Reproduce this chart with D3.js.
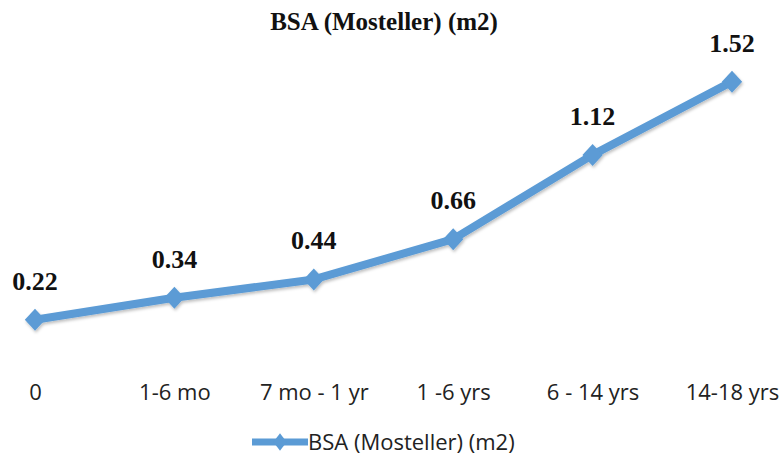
<!DOCTYPE html>
<meta charset="utf-8">
<style>
body { margin: 0; background: #fff; }
.title { font-family: "Liberation Serif", "Times New Roman", serif; font-weight: bold; font-size: 25px; fill: #111; }
.val { font-family: "Liberation Serif", "Times New Roman", serif; font-weight: bold; font-size: 26px; fill: #111; }
.cat, .legend { font-family: "Open Sans", "Liberation Sans", sans-serif; font-size: 22px; fill: #222; }
</style>
<svg width="782" height="460"></svg>
<script src="https://d3js.org/d3.v7.min.js"></script>
<script>

var categories = ["0", "1-6 mo", "7 mo - 1 yr", "1 -6 yrs", "6 - 14 yrs", "14-18 yrs"];
var values = [0.22, 0.34, 0.44, 0.66, 1.12, 1.52];
var seriesName = "BSA (Mosteller) (m2)";

var svg = d3.select("svg");
var color = "#5b9bd5";

var x = d3.scalePoint().domain(categories).range([35, 732]);
var y = d3.scaleLinear().domain([0, 1.6]).range([360, 67]);

var data = categories.map(function(c, i) { return {cat: c, v: values[i]}; });

svg.append("text")
  .attr("class", "title")
  .attr("x", 384)
  .attr("y", 30)
  .attr("text-anchor", "middle")
  .text(seriesName);

var defs = svg.append("defs");
var f = defs.append("filter").attr("id", "sh").attr("x", "-20%").attr("y", "-20%").attr("width", "140%").attr("height", "140%");
f.append("feDropShadow").attr("dx", 1).attr("dy", 2).attr("stdDeviation", 1.5).attr("flood-color", "#000").attr("flood-opacity", 0.25);

var line = d3.line()
  .x(function(d) { return x(d.cat); })
  .y(function(d) { return y(d.v); });

var g = svg.append("g").attr("filter", "url(#sh)");

g.append("path")
  .datum(data)
  .attr("fill", "none")
  .attr("stroke", color)
  .attr("stroke-width", 8)
  .attr("stroke-linejoin", "round")
  .attr("d", line);

var diamond = d3.symbol().type(d3.symbolDiamond).size(140);

g.selectAll(".pt")
  .data(data)
  .enter().append("path")
  .attr("class", "pt")
  .attr("fill", color)
  .attr("transform", function(d) { return "translate(" + x(d.cat) + "," + y(d.v) + ") scale(1.6,1)"; })
  .attr("d", diamond);

svg.selectAll(".val")
  .data(data)
  .enter().append("text")
  .attr("class", "val")
  .attr("x", function(d) { return x(d.cat); })
  .attr("y", function(d) { return y(d.v) - 30; })
  .attr("text-anchor", "middle")
  .text(function(d) { return d.v.toFixed(2); });

var xAxis = svg.append("g")
  .attr("transform", "translate(0,400)")
  .call(d3.axisBottom(x).tickSize(0).tickPadding(0));
xAxis.select(".domain").remove();
xAxis.selectAll("text")
  .attr("class", "cat")
  .attr("dy", 0)
  .attr("fill", null);

var lg = svg.append("g").attr("transform", "translate(252,442)");
lg.append("line").attr("x1", 0).attr("x2", 56).attr("y1", 0).attr("y2", 0)
  .attr("stroke", color).attr("stroke-width", 7);
lg.append("path").attr("fill", color)
  .attr("transform", "translate(28,0) scale(1.3,1)")
  .attr("d", d3.symbol().type(d3.symbolDiamond).size(90));
lg.append("text").attr("class", "legend")
  .attr("x", 56).attr("y", 8)
  .text(seriesName);

</script>
